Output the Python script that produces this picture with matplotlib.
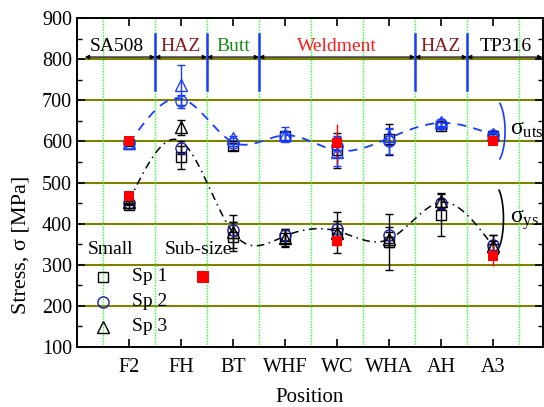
import numpy as np
import matplotlib
matplotlib.use("Agg")
import matplotlib.pyplot as plt

plt.rcParams['font.family'] = ['Liberation Serif', 'DejaVu Serif']
plt.rcParams['mathtext.fontset'] = 'custom'
plt.rcParams['mathtext.rm'] = 'Liberation Serif'
plt.rcParams['mathtext.it'] = 'Liberation Serif'

nan = np.nan
positions = ['F2', 'FH', 'BT', 'WHF', 'WC', 'WHA', 'AH', 'A3']

# Ultimate tensile strength, small specimens
uts_sp1 = [593, nan, 588, 612, 578, 605, 638, 613]
uts_sp1_err = [4, 0, 8, 10, 42, 38, 8, 5]
uts_sp2 = [595, 697, 595, 614, 588, 600, 642, 615]
uts_sp2_err = [4, 16, 6, 10, 25, 30, 6, 5]
uts_sp3 = [596, 737, 607, 616, 575, 612, 646, 618]
uts_sp3_err = [4, 48, 6, 18, 35, 20, 8, 6]

# Yield strength, small specimens
ys_sp1 = [445, 561, 368, 365, 378, 355, 421, 338]
ys_sp1_err = [6, 28, 35, 20, 50, 68, 52, 20]
ys_sp2 = [450, 585, 385, 372, 386, 372, 449, 348]
ys_sp2_err = [5, 15, 20, 15, 20, 20, 10, 25]
ys_sp3 = [452, 634, 380, 365, 377, 362, 455, 345]
ys_sp3_err = [5, 18, 40, 22, 30, 18, 20, 28]

# Sub-size specimens
sub_uts = [600, nan, nan, nan, 595, nan, nan, 601]
sub_uts_err = [0, 0, 0, 0, 48, 0, 0, 0]
sub_ys = [468, nan, nan, nan, 358, nan, nan, 322]
sub_ys_err = [0, 0, 0, 0, 15, 0, 0, 25]

# Trend curve nodes
uts_trend = [595, 704, 598, 615, 578, 608, 645, 616]
ys_trend = [455, 600, 378, 370, 382, 362, 452, 345]

# Region labels
regions = ['SA508', 'HAZ', 'Butt', 'Weldment', 'HAZ', 'TP316']
region_bounds = [0.15, 1.5, 2.5, 3.5, 6.5, 7.5, 8.95]
region_label_x = [0.77, 2.0, 3.0, 5.0, 7.0, 8.25]
region_colors = ['black', '#8b1a1a', '#1a8c1a', '#ff1a1a', '#8b1a1a', 'black']


def natural_spline(x, y, xs):
    x = np.asarray(x, float); y = np.asarray(y, float)
    n = len(x)
    h = np.diff(x)
    A = np.zeros((n, n)); b = np.zeros(n)
    A[0, 0] = 1; A[-1, -1] = 1
    for i in range(1, n - 1):
        A[i, i - 1] = h[i - 1]
        A[i, i] = 2 * (h[i - 1] + h[i])
        A[i, i + 1] = h[i]
        b[i] = 3 * ((y[i + 1] - y[i]) / h[i] - (y[i] - y[i - 1]) / h[i - 1])
    c = np.linalg.solve(A, b)
    out = np.empty_like(xs)
    for k, xv in enumerate(xs):
        i = min(max(np.searchsorted(x, xv) - 1, 0), n - 2)
        d = (c[i + 1] - c[i]) / (3 * h[i])
        bb = (y[i + 1] - y[i]) / h[i] - h[i] * (2 * c[i] + c[i + 1]) / 3
        t = xv - x[i]
        out[k] = y[i] + bb * t + c[i] * t ** 2 + d * t ** 3
    return out


fig = plt.figure(figsize=(5.44, 4.07), dpi=100)
ax = fig.add_axes([77 / 544, 60 / 407, 466 / 544, 329 / 407])
x = np.arange(1, len(positions) + 1)

ax.set_xlim(0, 8.96)
ax.set_ylim(100, 900)

# grid lines
for yv in range(200, 900, 100):
    ax.axhline(yv, color='#808000', lw=1.5, zorder=1)
for xv in np.arange(0.5, 9, 1.0):
    ax.axvline(xv, color='#22ff22', lw=1.0, ls=(0, (1, 1)), zorder=1)

# region separators
for xv in region_bounds[1:-1]:
    ax.plot([xv, xv], [725, 860], color='#1a3cff', lw=1.8, zorder=3)

# region arrows and labels
for i, name in enumerate(regions):
    x0, x1 = region_bounds[i], region_bounds[i + 1]
    ax.annotate('', xy=(x0, 805), xytext=(x1, 805),
                arrowprops=dict(arrowstyle='<|-|>', color='black', lw=0.9,
                                mutation_scale=6, shrinkA=0, shrinkB=0))
    ax.text(region_label_x[i], 831, name, ha='center', va='center',
            fontsize=14, color=region_colors[i], zorder=5)

# trend curves
xs = np.linspace(1, 8, 300)
ax.plot(xs, natural_spline(x, uts_trend, xs), color='#1a3cff', lw=1.3,
        ls=(0, (5, 4)), zorder=2)
ax.plot(xs, natural_spline(x, ys_trend, xs), color='black', lw=1.1,
        ls=(0, (5, 3, 1, 3)), zorder=2)

ms = 7
ekw = dict(capsize=3, elinewidth=1.0, capthick=1.0, zorder=4)
# UTS
ax.errorbar(x, uts_sp1, yerr=uts_sp1_err, fmt='s', mfc='none', mec='black',
            ecolor='black', ms=ms, mew=1.0, **ekw)
ax.errorbar(x, uts_sp2, yerr=uts_sp2_err, fmt='o', mfc='none', mec='#1a3cff',
            ecolor='#1a3cff', ms=ms + 1, mew=1.0, **ekw)
ax.errorbar(x, uts_sp3, yerr=uts_sp3_err, fmt='^', mfc='none', mec='#1a3cff',
            ecolor='#1a3cff', ms=ms + 1, mew=1.0, **ekw)
# yield
ax.errorbar(x, ys_sp1, yerr=ys_sp1_err, fmt='s', mfc='none', mec='black',
            ecolor='black', ms=ms, mew=1.0, **ekw)
ax.errorbar(x, ys_sp2, yerr=ys_sp2_err, fmt='o', mfc='none', mec='#1a1aa0',
            ecolor='black', ms=ms + 1, mew=1.0, **ekw)
ax.errorbar(x, ys_sp3, yerr=ys_sp3_err, fmt='^', mfc='none', mec='black',
            ecolor='black', ms=ms + 1, mew=1.0, **ekw)
# sub-size
ax.errorbar(x, sub_uts, yerr=sub_uts_err, fmt='s', color='#ff0000',
            ecolor='#ff0000', ms=ms, mew=0, **ekw)
ax.errorbar(x, sub_ys, yerr=sub_ys_err, fmt='s', color='#ff0000',
            ecolor='#ff0000', ms=ms, mew=0, **ekw)

# brackets and sigma labels
th = np.radians(np.linspace(-60, 60, 60))
ax.plot(8.03 + 0.2 * np.cos(th), 625 + 78 * np.sin(th), color='#1a3cff',
        lw=1.2, zorder=3)
ax.plot(8.03 + 0.17 * np.cos(th), 412 + 80 * np.sin(th), color='black',
        lw=1.2, zorder=3)
ax.text(8.33, 628, r'$\mathrm{\sigma}_{\mathrm{uts}}$', fontsize=17,
        ha='left', va='center')
ax.text(8.33, 410, r'$\mathrm{\sigma}_{\mathrm{ys}}$', fontsize=17,
        ha='left', va='center')

# manual legend
ax.text(0.65, 336, 'Small', fontsize=14, ha='center', va='center')
ax.text(2.33, 336, 'Sub-size', fontsize=14, ha='center', va='center')
ax.plot([0.5], [271], 's', mfc='none', mec='black', ms=ms, mew=1.0)
ax.plot([0.5], [210], 'o', mfc='none', mec='#1a1aa0', ms=ms + 1, mew=1.0)
ax.plot([0.5], [149], '^', mfc='none', mec='black', ms=ms + 1, mew=1.0)
ax.plot([2.43], [271], 's', color='#ff0000', ms=ms + 1, mew=0)
for yv, lab in zip([271, 210, 149], ['Sp 1', 'Sp 2', 'Sp 3']):
    ax.text(1.06, yv, lab, fontsize=14, ha='left', va='center')

# axes formatting
ax.set_xticks(x)
ax.set_xticklabels(positions)
ax.set_yticks(range(100, 1000, 100))
ax.set_yticks(range(150, 900, 100), minor=True)
ax.tick_params(axis='both', which='major', direction='in', length=6,
               width=1.2, labelsize=14.5, top=True, right=True)
ax.tick_params(axis='y', which='minor', direction='in', length=3.5,
               width=1.0, right=True)
ax.tick_params(axis='x', which='major', pad=8)
for s in ax.spines.values():
    s.set_linewidth(1.4)
ax.set_xlabel('Position', fontsize=15)
ax.xaxis.set_label_coords(0.5, -0.124)
ax.set_ylabel('Stress, σ [MPa]', fontsize=16)
ax.yaxis.set_label_coords(-0.10, 0.31)

fig.savefig('out.png', dpi=100)
